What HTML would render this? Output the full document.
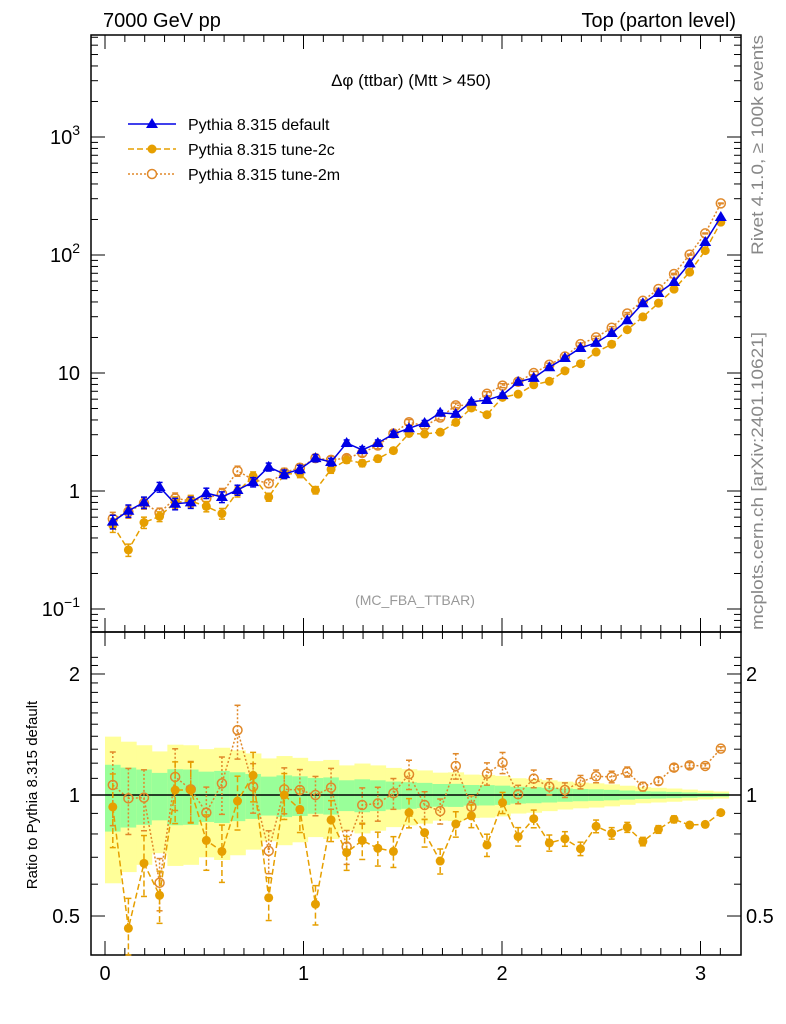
<!DOCTYPE html>
<html><head><meta charset="utf-8"><style>
body{margin:0;background:#fff;}
svg{display:block;font-family:"Liberation Sans",sans-serif;}
</style></head><body>
<svg id="c" width="786" height="1024" viewBox="0 0 786 1024"></svg>
<script>
const categories=[];for(let i=0;i<40;i++)categories.push((i+0.5)*Math.PI/40);
const defaultVals=[0.55,0.68,0.80,1.08,0.78,0.80,0.96,0.89,1.02,1.19,1.6,1.39,1.53,1.9,1.76,2.55,2.23,2.55,3.04,3.4,3.77,4.6,4.5,5.7,5.9,6.5,8.4,9.1,11.2,13.4,16.3,18,21.8,28,39,47.6,59,85,129,210];
const ratio2c=[0.934,0.466,0.676,0.563,1.029,1.029,0.771,0.724,0.966,1.119,0.555,1.0,0.921,0.535,0.867,0.719,0.771,0.737,0.724,0.904,0.806,0.685,0.847,0.887,0.751,0.957,0.788,0.873,0.760,0.778,0.735,0.836,0.803,0.831,0.766,0.821,0.870,0.842,0.845,0.904];
const ratio2m=[1.059,0.981,0.985,0.605,1.109,1.033,0.904,1.069,1.45,1.049,0.726,1.033,1.029,1.0,1.043,0.744,0.944,0.953,1.01,1.126,0.944,0.912,1.181,0.935,1.130,1.203,1.004,1.098,1.049,1.029,1.077,1.113,1.109,1.141,1.049,1.083,1.170,1.185,1.181,1.304];
const relErr=[.189,.170,.157,.135,.159,.157,.143,.148,.139,.128,.111,.119,.113,.102,.106,.088,.094,.088,.080,.076,.072,.065,.066,.059,.058,.055,.048,.046,.042,.038,.035,.033,.030,.026,.022,.020,.018,.015,.012,.0097];
const xTicks=[0,1,2,3];
const yTicksMain=[[1000,'10','3'],[100,'10','2'],[10,'10',''],[1,'1',''],[0.1,'10','−1']];
const yTicksRatio=[[2,'2'],[1,'1'],[0.5,'0.5']];

const L=91,R=741,T=35,M=632,B=955;
const X=v=>105+198.5*v;
const Y=v=>491-118*Math.log10(v);
const YR=r=>795-402*Math.log10(r);
const svg=document.getElementById('c');
const NS='http://www.w3.org/2000/svg';
function el(tag,attrs,parent,text){const e=document.createElementNS(NS,tag);for(const k in attrs)e.setAttribute(k,attrs[k]);if(text!==undefined)e.textContent=text;(parent||svg).appendChild(e);return e;}
const bw=Math.PI/40*198.5;
const BLUE='#0000e6',OR='#e69f00',OR2='#e0892a';

const gBand=el('g',{});


categories.forEach((c,i)=>{
  const x0=X(c)-bw/2;
  const ey=Math.min(relErr[i]*2.1,0.4);
  const r=el('rect',{x:x0,y:YR(1+ey),width:bw+0.5,height:YR(1-ey)-YR(1+ey),fill:'#ffff99'},gBand);
  
  
  const g=el('rect',{x:x0,y:YR(1+relErr[i]),width:bw+0.5,height:YR(1-relErr[i])-YR(1+relErr[i]),fill:'#99ff99'},gBand);
  
  
});
el('line',{x1:L,x2:R,y1:YR(1),y2:YR(1),stroke:'#000','stroke-width':1.5});

el('rect',{x:L,y:T,width:R-L,height:M-T,fill:'none',stroke:'#000','stroke-width':1.5});
el('rect',{x:L,y:M,width:R-L,height:B-M,fill:'none',stroke:'#000','stroke-width':1.5});

for(let v=0;v<=3.2;v+=0.1){const x=X(v);if(x<L||x>R)continue;const maj=Math.abs(v-Math.round(v))<1e-6;const len=maj?14:7;
  [[M,-len],[B,-len],[T,len],[M,len]].forEach(([y,d])=>el('line',{x1:x,x2:x,y1:y,y2:y+d,stroke:'#000','stroke-width':1}));}
xTicks.forEach(v=>{const t=el('text',{x:X(v),y:980,'font-size':20,'text-anchor':'middle'},svg,String(v));
  
  });

for(let d=-2;d<=3;d++){for(let m=1;m<10;m++){const v=m*Math.pow(10,d);const y=Y(v);if(y<T||y>M)continue;const len=m===1?14:7;
  el('line',{x1:L,x2:L+len,y1:y,y2:y,stroke:'#000'});el('line',{x1:R,x2:R-len,y1:y,y2:y,stroke:'#000'});}}
yTicksMain.forEach(([v,b,s])=>{const t=el('text',{x:80,y:Y(v)+7,'font-size':20,'text-anchor':'end'});
  
  
  if(s){el('tspan',{},t,b);el('tspan',{dy:-9,'font-size':14},t,s);}else{t.textContent=b;}});
[0.5,0.6,0.7,0.8,0.9,1,1.1,1.2,1.3,1.4,1.5,1.6,1.7,1.8,1.9,2,2.1,2.2].forEach(v=>{const y=YR(v);if(y<M||y>B)return;const maj=[0.5,1,2].includes(v);const len=maj?14:7;
  el('line',{x1:L,x2:L+len,y1:y,y2:y,stroke:'#000'});el('line',{x1:R,x2:R-len,y1:y,y2:y,stroke:'#000'});});
yTicksRatio.forEach(([v,s])=>{
  const t=el('text',{x:80,y:YR(v)+7,'font-size':20,'text-anchor':'end'},svg,s);
  
  
  const t2=el('text',{x:746,y:YR(v)+7,'font-size':20},svg,s);
  
  });

function series(vals,errs,color,dash,marker,name,yfn,clipTop,clipBot){
  const g=el('g',{});
  
  
  const pts=categories.map((c,i)=>[X(c),yfn(vals[i])]);
  el('polyline',{points:pts.map(p=>p.join(',')).join(' '),fill:'none',stroke:color,'stroke-width':1.5,'stroke-dasharray':dash},g);
  categories.forEach((c,i)=>{const x=X(c);const hi=Math.max(clipTop,yfn(vals[i]*(1+errs[i])));const lo=Math.min(clipBot,yfn(Math.max(vals[i]*(1-errs[i]),1e-3)));
    el('line',{x1:x,x2:x,y1:hi,y2:lo,stroke:color,'stroke-width':1.5,'stroke-dasharray':dash},g);
    el('line',{x1:x-3,x2:x+3,y1:hi,y2:hi,stroke:color,'stroke-width':1.5},g);
    el('line',{x1:x-3,x2:x+3,y1:lo,y2:lo,stroke:color,'stroke-width':1.5},g);
    const y=yfn(vals[i]);let m;
    if(marker==='tri')m=el('polygon',{points:`${x},${y-6} ${x-6},${y+4} ${x+6},${y+4}`,fill:color},g);
    else if(marker==='dot')m=el('circle',{cx:x,cy:y,r:4.5,fill:color},g);
    else m=el('circle',{cx:x,cy:y,r:4.5,fill:'none',stroke:color,'stroke-width':1.5},g);
    
    
  });
}
const mainErr=relErr.map(e=>e*0.7);
series(ratio2m.map((r,i)=>r*defaultVals[i]),mainErr,OR2,'2,2','open','tune-2m-series',Y,T,M);
series(ratio2c.map((r,i)=>r*defaultVals[i]),mainErr,OR,'6,3','dot','tune-2c-series',Y,T,M);
series(defaultVals,mainErr,BLUE,'','tri','default-series',Y,T,M);
const rErr=relErr.map(e=>e*1.1);
series(ratio2m,rErr,OR2,'2,2','open','tune-2m-ratio',YR,M,B);
series(ratio2c,rErr,OR,'6,3','dot','tune-2c-ratio',YR,M,B);

function txt(x,y,s,attrs,name){const t=el('text',Object.assign({x:x,y:y},attrs),svg,s);return t;}
txt(103,27,'7000 GeV pp',{'font-size':20},'energy-label');
txt(736,27,'Top (parton level)',{'font-size':20,'text-anchor':'end'},'process-label');
txt(411,86,'Δφ (ttbar) (Mtt > 450)',{'font-size':17,'text-anchor':'middle'},'plot-title');
txt(415,605,'(MC_FBA_TTBAR)',{'font-size':14,'text-anchor':'middle',fill:'#999'},'analysis-label');
txt(763,145,'Rivet 4.1.0, ≥ 100k events',{'font-size':17,'text-anchor':'middle',fill:'#888',textLength:220,lengthAdjust:'spacingAndGlyphs',transform:'rotate(-90 763 145)'},'rivet-label');
txt(763,481,'mcplots.cern.ch [arXiv:2401.10621]',{'font-size':17,'text-anchor':'middle',fill:'#888',textLength:298,lengthAdjust:'spacingAndGlyphs',transform:'rotate(-90 763 481)'},'mcplots-label');
txt(37,795,'Ratio to Pythia 8.315 default',{'font-size':15,'text-anchor':'middle',transform:'rotate(-90 37 795)'},'y-axis-title');

const leg=[[BLUE,'','tri','Pythia 8.315 default',124],[OR,'6,3','dot','Pythia 8.315 tune-2c',149],[OR2,'2,2','open','Pythia 8.315 tune-2m',174]];
leg.forEach(([c,d,m,s,y])=>{const g=el('g',{});
  
  
  el('line',{x1:128,x2:176,y1:y,y2:y,stroke:c,'stroke-width':1.5,'stroke-dasharray':d},g);
  if(m==='tri')el('polygon',{points:`152,${y-6} 146,${y+4} 158,${y+4}`,fill:c},g);
  else if(m==='dot')el('circle',{cx:152,cy:y,r:4.5,fill:c},g);
  else el('circle',{cx:152,cy:y,r:4.5,fill:'#fff',stroke:c,'stroke-width':1.5},g);
  el('text',{x:188,y:y+6,'font-size':16},g,s);});
</script>
</body></html>
